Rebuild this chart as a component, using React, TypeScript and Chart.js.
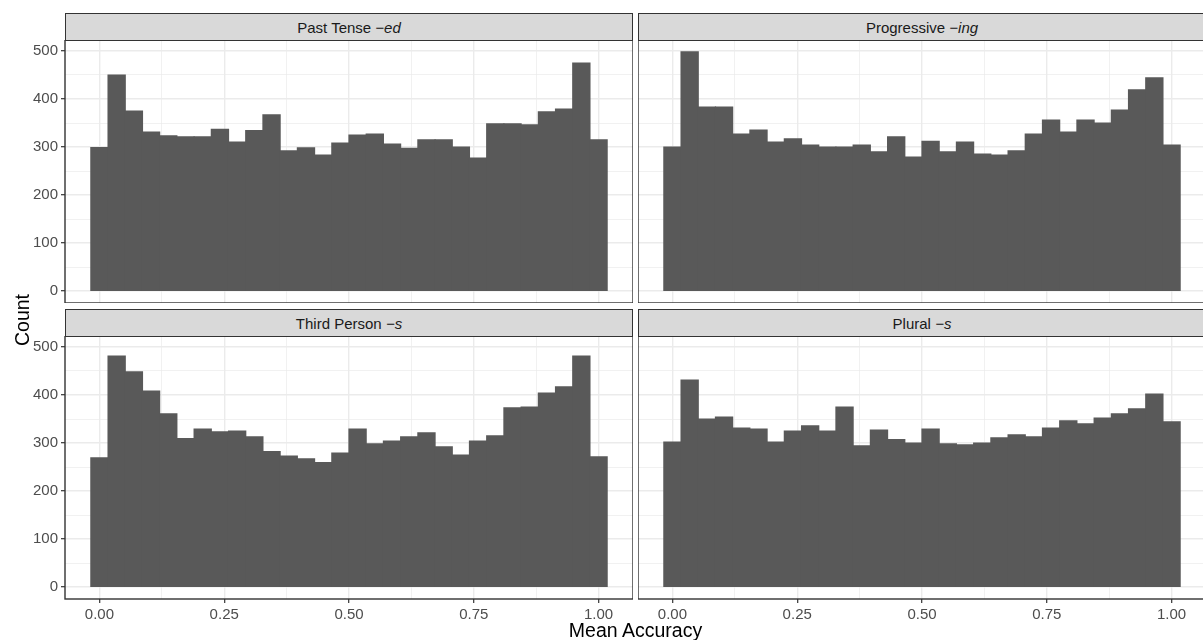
import React, { useEffect, useRef } from "react";
import { Chart, registerables } from "chart.js";

Chart.register(...registerables);

// Bin centres of the 30 histogram bins (width 1/29)
const BIN_CENTERS = [
  0.0, 0.0345, 0.069, 0.1034, 0.1379, 0.1724, 0.2069, 0.2414, 0.2759, 0.3103,
  0.3448, 0.3793, 0.4138, 0.4483, 0.4828, 0.5172, 0.5517, 0.5862, 0.6207, 0.6552,
  0.6897, 0.7241, 0.7586, 0.7931, 0.8276, 0.8621, 0.8966, 0.931, 0.9655, 1.0,
];

const PAST_TENSE = [
  299, 450, 375, 331, 323, 321, 321, 337, 310, 334,
  367, 292, 298, 283, 308, 325, 327, 306, 297, 315,
  315, 300, 277, 348, 348, 346, 373, 379, 475, 315,
];

const PROGRESSIVE = [
  300, 498, 383, 383, 327, 335, 310, 317, 304, 300,
  300, 304, 290, 321, 279, 312, 290, 310, 285, 283,
  292, 327, 356, 331, 356, 350, 377, 419, 444, 304,
];

const THIRD_PERSON = [
  269, 481, 448, 408, 361, 309, 329, 323, 325, 313,
  282, 273, 267, 259, 279, 329, 298, 304, 313, 321,
  292, 275, 304, 315, 373, 375, 404, 417, 481, 271,
];

const PLURAL = [
  302, 431, 350, 354, 331, 329, 302, 325, 336, 325,
  375, 294, 327, 307, 300, 329, 298, 296, 300, 311,
  317, 313, 331, 346, 340, 352, 361, 371, 402, 344,
];

const X_MAJOR = [0, 0.25, 0.5, 0.75, 1];
const X_LABELS = ["0.00", "0.25", "0.50", "0.75", "1.00"];
const X_MINOR = [0.125, 0.375, 0.625, 0.875];
const Y_MAJOR = [0, 100, 200, 300, 400, 500];
const Y_LABELS = ["0", "100", "200", "300", "400", "500"];
const Y_MINOR = [50, 150, 250, 350, 450];

const X_MIN = -0.069;
const X_MAX = 1.069;
const Y_MIN = -24.9;
const Y_MAX = 522.9;

const FONT = '"Liberation Sans", Arial, Helvetica, sans-serif';
const BAR_COLOR = "#595959";
const GRID_COLOR = "#EBEBEB";
const DARK = "#333333";

const borderPlugin = {
  id: "panelBorder",
  afterDraw(chart: any) {
    const { ctx, chartArea: a } = chart;
    ctx.save();
    ctx.strokeStyle = DARK;
    ctx.lineWidth = 1.4;
    ctx.strokeRect(a.left, a.top, a.right - a.left, a.bottom - a.top);
    ctx.restore();
  },
};

type PanelProps = {
  values: number[];
  left: number;
  top: number;
  width: number;
  height: number;
  showY: boolean;
  showX: boolean;
};

function Panel({ values, left, top, width, height, showY, showX }: PanelProps) {
  const ref = useRef<HTMLCanvasElement | null>(null);
  useEffect(() => {
    if (!ref.current) return;
    const chart = new Chart(ref.current, {
      type: "bar",
      data: {
        datasets: [
          {
            data: BIN_CENTERS.map((x, i) => ({ x, y: values[i] })) as any,
            backgroundColor: BAR_COLOR,
            borderWidth: 0,
            barPercentage: 1,
            categoryPercentage: 1,
            inflateAmount: 0.6,
          },
        ],
      },
      options: {
        responsive: false,
        animation: false,
        events: [],
        layout: { padding: 0 },
        plugins: { legend: { display: false }, tooltip: { enabled: false } },
        scales: {
          x: {
            type: "linear",
            min: X_MIN,
            max: X_MAX,
            offset: false,
            afterBuildTicks: (s: any) => {
              s.ticks = [...X_MAJOR, ...X_MINOR]
                .sort((a, b) => a - b)
                .map((v) => ({ value: v }));
            },
            afterFit: (s: any) => {
              s.height = showX ? 30 : 0;
              s.paddingLeft = 0;
              s.paddingRight = 0;
              s.paddingTop = 0;
              s.paddingBottom = 0;
            },
            ticks: {
              display: showX,
              padding: 3,
              color: "#4D4D4D",
              font: { family: FONT, size: 15 },
              maxRotation: 0,
              autoSkip: false,
              callback: (v: any) => {
                const i = X_MAJOR.indexOf(Number(v));
                return i >= 0 ? X_LABELS[i] : "";
              },
            },
            grid: {
              offset: false,
              color: GRID_COLOR,
              lineWidth: (c: any) => (X_MAJOR.includes(c.tick?.value) ? 1.4 : 0.7),
              drawTicks: showX,
              tickLength: 4,
              tickWidth: 1.2,
              tickColor: (c: any) =>
                X_MAJOR.includes(c.tick?.value) ? DARK : "rgba(0,0,0,0)",
            },
            border: { display: false },
          },
          y: {
            type: "linear",
            min: Y_MIN,
            max: Y_MAX,
            afterBuildTicks: (s: any) => {
              s.ticks = [...Y_MAJOR, ...Y_MINOR]
                .sort((a, b) => a - b)
                .map((v) => ({ value: v }));
            },
            afterFit: (s: any) => {
              s.width = showY ? 65 : 0;
              s.paddingLeft = 0;
              s.paddingRight = 0;
              s.paddingTop = 0;
              s.paddingBottom = 0;
            },
            ticks: {
              display: showY,
              padding: 3,
              color: "#4D4D4D",
              font: { family: FONT, size: 15 },
              autoSkip: false,
              callback: (v: any) => {
                const i = Y_MAJOR.indexOf(Number(v));
                return i >= 0 ? Y_LABELS[i] : "";
              },
            },
            grid: {
              color: GRID_COLOR,
              lineWidth: (c: any) => (Y_MAJOR.includes(c.tick?.value) ? 1.4 : 0.7),
              drawTicks: showY,
              tickLength: 4,
              tickWidth: 1.2,
              tickColor: (c: any) =>
                Y_MAJOR.includes(c.tick?.value) ? DARK : "rgba(0,0,0,0)",
            },
            border: { display: false },
          },
        },
      } as any,
      plugins: [borderPlugin],
    });
    return () => chart.destroy();
  }, []);
  return (
    <canvas
      ref={ref}
      width={width}
      height={height}
      style={{ position: "absolute", left, top, width, height }}
    />
  );
}

function Strip({ left, top, main, suffix }: { left: number; top: number; main: string; suffix: string }) {
  return (
    <div
      style={{
        position: "absolute",
        left,
        top,
        width: 568,
        height: 28,
        boxSizing: "border-box",
        background: "#D9D9D9",
        border: `1.4px solid ${DARK}`,
        display: "flex",
        alignItems: "center",
        justifyContent: "center",
        fontFamily: FONT,
        fontSize: 15,
        color: "#1A1A1A",
        whiteSpace: "pre",
      }}
    >
      {main}
      <i>{suffix}</i>
    </div>
  );
}

export default function App() {
  return (
    <div
      style={{
        position: "fixed",
        left: 0,
        top: 0,
        width: 1203,
        height: 640,
        overflow: "hidden",
        background: "#FFFFFF",
      }}
    >
      <Panel values={PAST_TENSE} left={0} top={40} width={633} height={263} showY={true} showX={false} />
      <Panel values={PROGRESSIVE} left={638} top={40} width={568} height={263} showY={false} showX={false} />
      <Panel values={THIRD_PERSON} left={0} top={336} width={633} height={293} showY={true} showX={true} />
      <Panel values={PLURAL} left={638} top={336} width={568} height={293} showY={false} showX={true} />

      <Strip left={65} top={13} main="Past Tense " suffix="−ed" />
      <Strip left={638} top={13} main="Progressive " suffix="−ing" />
      <Strip left={65} top={309} main="Third Person " suffix="−s" />
      <Strip left={638} top={309} main="Plural " suffix="−s" />

      <div
        style={{
          position: "absolute",
          left: 21.5 - 100,
          top: 319.5 - 10,
          width: 200,
          height: 20,
          lineHeight: "20px",
          textAlign: "center",
          transform: "rotate(-90deg)",
          fontFamily: FONT,
          fontSize: 19.5,
          color: "#000000",
        }}
      >
        Count
      </div>
      <div
        style={{
          position: "absolute",
          left: 635.5 - 150,
          top: 620,
          width: 300,
          height: 20,
          lineHeight: "20px",
          textAlign: "center",
          fontFamily: FONT,
          fontSize: 19.5,
          color: "#000000",
        }}
      >
        Mean Accuracy
      </div>
    </div>
  );
}
